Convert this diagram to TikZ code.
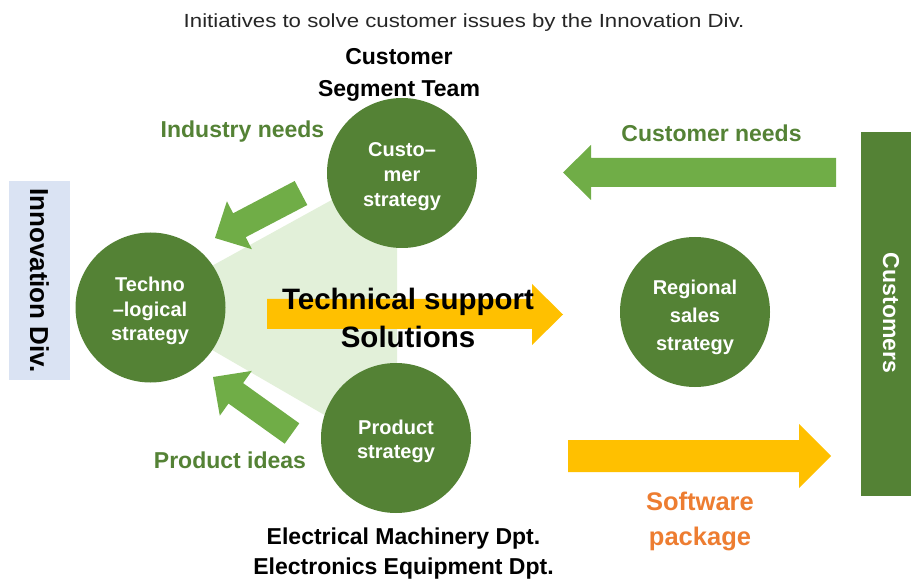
\documentclass[tikz,border=0pt]{standalone}
\usepackage{fontspec}
\setmainfont{Liberation Sans}
\usepackage{graphicx}
\definecolor{dkgreen}{HTML}{548235}
\definecolor{ltgreen}{HTML}{70AD47}
\definecolor{bggreen}{HTML}{E2F0D9}
\definecolor{gold}{HTML}{FFC000}
\definecolor{orng}{HTML}{ED7D31}
\definecolor{ltblue}{HTML}{DAE3F3}
\definecolor{titlegray}{HTML}{262626}
\begin{document}
\begin{tikzpicture}[x=1pt,y=-1pt,
  circ/.style={circle, fill=dkgreen, minimum size=150pt, inner sep=0pt},
  ctext/.style={text=white, font=\fontsize{20}{24}\selectfont\bfseries, anchor=base, inner sep=0pt},
  lbl/.style={text=dkgreen, font=\fontsize{23}{28}\selectfont\bfseries, anchor=base, inner sep=0pt},
  blk/.style={text=black, font=\fontsize{23}{28}\selectfont\bfseries, anchor=base, inner sep=0pt},
  big/.style={text=black, font=\fontsize{29.5}{34}\selectfont\bfseries, anchor=base, inner sep=0pt},
  orlbl/.style={text=orng, font=\fontsize{25.5}{30}\selectfont\bfseries, anchor=base, inner sep=0pt},
  fatgreen/.style={fill=ltgreen},
  fatgold/.style={fill=gold}]
\useasboundingbox (0,0) rectangle (911,580);

% title
\node[anchor=base, inner sep=0pt, text=titlegray, font=\fontsize{19}{23}\selectfont] (title) at (464,28)
  {\scalebox{1.17}[1]{Initiatives to solve customer issues by the Innovation Div.}};

% side boxes
\node[fill=ltblue, rotate=-90, minimum width=199pt, minimum height=61pt, inner sep=0pt,
  font=\fontsize{26}{30}\selectfont\bfseries] (innov) at (39.5,280.5) {Innovation Div.};
\node[fill=dkgreen, rotate=-90, minimum width=364pt, minimum height=50pt, inner sep=0pt] (custbox) at (886,314) {};
\node[rotate=-90, inner sep=0pt, text=white, font=\fontsize{23}{28}\selectfont\bfseries] (custtxt) at (891,313) {Customers};

% light background triangle
\fill[bggreen] (150,300) -- (397,164) -- (397,457) -- (150,314) -- cycle;

% circles
\node[circ] (cust) at (402,173) {};
\node[circ] (tech) at (150.5,307.5) {};
\node[circ] (prod) at (396,438) {};
\node[circ] (reg) at (695,312) {};

% circle texts
\node[ctext] (cs1) at (402,157) {Custo–};
\node[ctext] (cs2) at (402,182) {mer};
\node[ctext] (cs3) at (402,207) {strategy};
\node[ctext] (ts1) at (150,291.5) {Techno};
\node[ctext] (ts2) at (150,316.5) {–logical};
\node[ctext] (ts3) at (150,341) {strategy};
\node[ctext] (rs1) at (695,295) {Regional};
\node[ctext] (rs2) at (695,322.5) {sales};
\node[ctext] (rs3) at (695,350) {strategy};
\node[ctext] (ps1) at (396,434) {Product};
\node[ctext] (ps2) at (396,458.5) {strategy};

% fat arrows
\fill[fatgreen] (294.7,181) -- (233.1,213.3) -- (226.9,201.3) -- (215,238) -- (251.9,249.2) -- (245.7,237.2) -- (307.3,205) -- cycle;
\fill[fatgreen] (284.7,443.7) -- (228.5,403.5) -- (219.8,415.7) -- (213,377) -- (251.8,370.9) -- (243.1,383.1) -- (299.3,423.3) -- cycle;
\fill[fatgreen] (836,158) -- (591,158) -- (591,145) -- (563,172.5) -- (591,200) -- (591,187) -- (836,187) -- cycle;
\fill[fatgold] (267,299) -- (532,299) -- (532,284) -- (563,314.5) -- (532,345) -- (532,329) -- (267,329) -- cycle;
\fill[fatgold] (568,440) -- (799,440) -- (799,424) -- (831,456) -- (799,488) -- (799,472) -- (568,472) -- cycle;

% labels
\node[blk] (cst1) at (399,64.5) {Customer};
\node[blk] (cst2) at (399,96.5) {Segment Team};
\node[lbl] (indneeds) at (242.5,138) {Industry needs};
\node[lbl] (custneeds) at (711.5,141.5) {Customer needs};
\node[lbl] (pideas) at (230,468) {Product ideas};
\node[big] (tsup1) at (408,309) {Technical support};
\node[big] (tsup2) at (408,348) {Solutions};
\node[orlbl] (sw1) at (700,510.5) {Software};
\node[orlbl] (sw2) at (700,545) {package};
\node[blk] (ed1) at (403.5,544) {Electrical Machinery Dpt.};
\node[blk] (ed2) at (403.5,574) {Electronics Equipment Dpt.};
\end{tikzpicture}
\end{document}
